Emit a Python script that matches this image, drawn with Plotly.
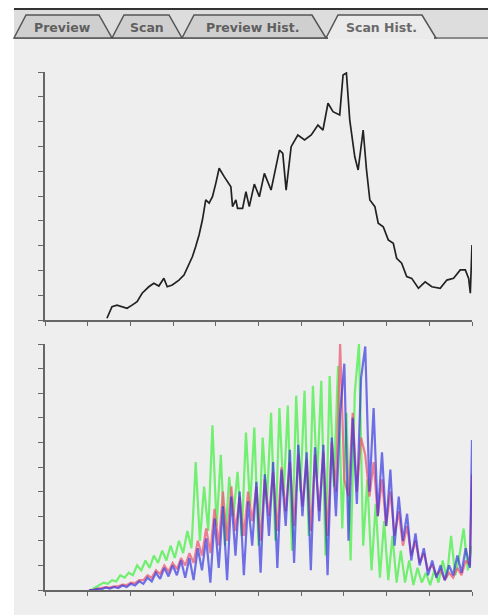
import plotly.graph_objects as go

# The page places the figure 8 px in from the top-left corner (default body margin)
OFF = 8
W, H = 496 - OFF, 615 - OFF

# ---------------- data ----------------
# Composite (luminance) histogram of the scan: levels 0-255, relative counts 0-100
lum_levels = [37, 40, 43, 46, 49, 52, 55, 58, 62, 65, 68, 71, 73, 76, 80, 83, 85, 88, 90, 92,
              94, 96, 98, 100, 102, 104, 107, 109, 111, 112, 114, 115, 118, 120, 122, 125, 128, 131,
              135, 140, 142, 144, 147, 151, 155, 159, 163, 166, 169, 172, 176, 178, 180, 182, 185,
              187, 190, 192, 194, 197, 199, 202, 205, 208, 210, 213, 216, 219, 223, 227, 231, 236,
              240, 244, 248, 251, 253, 254, 255]
lum_counts = [0.7, 5.4, 6.0, 5.4, 4.7, 6.0, 7.4, 10.8, 13.4, 14.8, 13.7, 16.8, 13.4, 14.1, 16.1,
              18.1, 20.8, 25.5, 29.6, 34.3, 40.3, 48.4, 47.1, 49.7, 55.1, 61.2, 57.8, 55.8, 53.7,
              45.7, 48.4, 45.0, 45.0, 51.7, 45.7, 54.8, 49.7, 59.1, 52.4, 68.5, 67.2, 52.4, 69.9,
              74.6, 72.6, 74.6, 78.6, 76.6, 87.4, 84.0, 82.7, 98.8, 99.6, 80.6, 65.8, 60.5, 76.6,
              60.5, 48.4, 45.7, 39.0, 37.6, 32.3, 30.9, 24.9, 22.9, 17.5, 16.8, 12.8, 15.4, 13.4,
              12.8, 16.1, 16.8, 20.2, 20.2, 16.8, 10.8, 30.2]

# Green channel histogram (sampled levels)
green_levels = [27.5, 30, 32.5, 35, 37.5, 40, 42.5, 45, 47.5, 50, 52.5, 55, 57.5, 60, 62.5, 65,
                67.5, 70, 72.5, 75, 77.5, 80, 82.5, 85, 87.5, 90, 92.5, 95, 97.5, 100, 102.5, 105,
                107.5, 110, 112.5, 115, 117.5, 120, 122.5, 125, 127.5, 130, 132.5, 135, 137.5, 140,
                142.5, 145, 147.5, 150, 152.5, 155, 157.5, 160, 162.5, 165, 167.5, 170, 172.5, 175,
                177.5, 180, 182.5, 185, 187.5, 190, 192.5, 195, 197.5, 200, 202.5, 205, 207.5, 210,
                212.5, 215, 217.5, 220, 222.5, 225, 227.5, 230, 232.5, 235, 237.5, 240, 242.5, 245,
                247.5, 250, 252.5, 255]
green_counts = [0, 1, 2, 3, 2.5, 4, 3.5, 6, 5, 7, 6, 10, 8, 12, 9, 14, 11, 16, 12, 18, 13, 20, 15,
                24, 17, 52, 20, 42, 24, 67, 26, 55, 18, 46, 30, 48, 22, 64, 34, 66, 18, 62, 35, 72,
                20, 74, 38, 75, 16, 79, 40, 81, 22, 83, 45, 85, 14, 87, 42, 91, 25, 72, 12, 80, 100,
                18, 45, 8, 35, 5, 28, 4, 22, 3, 16, 3, 12, 2, 9, 3, 7, 2, 8, 3, 12, 5, 22, 6, 14,
                25, 8, 18]

# Red and blue channel histograms (sampled levels)
rb_levels = [26.25, 28.75, 31.25, 33.75, 36.25, 38.75, 41.25, 43.75, 46.25, 48.75, 51.25, 53.75,
             56.25, 58.75, 61.25, 63.75, 66.25, 68.75, 71.25, 73.75, 76.25, 78.75, 81.25, 83.75,
             86.25, 88.75, 91.25, 93.75, 96.25, 98.75, 101.25, 103.75, 106.25, 108.75, 111.25,
             113.75, 116.25, 118.75, 121.25, 123.75, 126.25, 128.75, 131.25, 133.75, 136.25,
             138.75, 141.25, 143.75, 146.25, 148.75, 151.25, 153.75, 156.25, 158.75, 161.25,
             163.75, 166.25, 168.75, 171.25, 173.75, 176.25, 178.75, 181.25, 183.75, 186.25,
             188.75, 191.25, 193.75, 196.25, 198.75, 201.25, 203.75, 206.25, 208.75, 211.25,
             213.75, 216.25, 218.75, 221.25, 223.75, 226.25, 228.75, 231.25, 233.75, 236.25,
             238.75, 241.25, 243.75, 246.25, 248.75, 251.25, 253.75, 255]
red_counts = [0, 0, 0.5, 0.8, 1.2, 1, 1.5, 1.5, 2.2, 2, 3, 2.8, 4, 4, 6, 5, 8, 6.5, 10, 7.5, 11,
              8.5, 13, 10, 15, 11, 20, 14, 25, 15, 33, 18, 40, 20, 42, 24, 38, 22, 40, 28, 42, 20,
              45, 30, 48, 24, 50, 32, 52, 26, 55, 34, 53, 24, 55, 32, 56, 22, 60, 40, 100, 45, 38,
              72, 40, 62, 55, 38, 52, 30, 45, 26, 40, 22, 32, 18, 26, 14, 20, 11, 15, 8, 10, 6, 8,
              4, 7, 5, 9, 6, 12, 10, 47]
blue_counts = [0, 0, 0.5, 0.3, 1, 0.6, 1.2, 0.8, 1.8, 1.2, 2.5, 1.8, 3.5, 2.5, 5, 3.5, 7, 4.5, 9,
               5.5, 10, 6, 12, 5, 13, 4, 17, 8, 21, 3, 29, 9, 34, 4, 38, 14, 40, 6, 36, 18, 44, 7,
               47, 22, 52, 9, 49, 26, 57, 11, 59, 30, 56, 8, 58, 28, 59, 6, 62, 30, 72, 92, 20, 70,
               35, 86, 99, 40, 74, 30, 56, 26, 49, 18, 38, 20, 31, 12, 23, 10, 17, 6, 12, 5, 10, 4,
               10, 6, 14, 7, 17, 9, 61]

x_tick_step = 25.5
y_tick_step = 10
tab_labels = ["Preview", "Scan", "Preview Hist.", "Scan Hist."]


# ---------------- helpers: screen pixel -> paper fraction ----------------
def px(x):
    return (x - OFF) / W


def py(y):
    return 1 - (y - OFF) / H


fig = go.Figure()

fig.add_trace(go.Scatter(x=lum_levels, y=lum_counts, mode="lines",
                         line=dict(color="#222222", width=1.7),
                         xaxis="x", yaxis="y", showlegend=False, hoverinfo="skip"))

for lv, counts, color, op in [(green_levels, green_counts, "rgb(100,240,100)", 0.9),
                              (rb_levels, red_counts, "rgb(235,90,115)", 0.75),
                              (rb_levels, blue_counts, "rgb(45,45,225)", 0.66)]:
    fig.add_trace(go.Scatter(x=lv, y=counts, mode="lines",
                             line=dict(color=color, width=2.2),
                             opacity=op, xaxis="x2", yaxis="y2",
                             showlegend=False, hoverinfo="skip"))

axis_common = dict(showgrid=False, zeroline=False, showticklabels=False,
                   showline=True, linecolor="#666666", linewidth=2,
                   ticks="outside", tickcolor="#666666", tickwidth=1, fixedrange=True)

xdom = [px(45), px(472)]
fig.update_layout(
    width=W, height=H,
    margin=dict(l=0, r=0, t=0, b=0),
    paper_bgcolor="white",
    plot_bgcolor="#eeeeee",
    xaxis=dict(domain=xdom, range=[0, 255], anchor="y", tick0=0, dtick=x_tick_step,
               ticklen=4, **axis_common),
    yaxis=dict(domain=[py(320), py(72)], range=[0, 100], anchor="x", tick0=0,
               dtick=y_tick_step, ticklen=5, **axis_common),
    xaxis2=dict(domain=xdom, range=[0, 255], anchor="y2", tick0=0, dtick=x_tick_step,
                ticklen=4, **axis_common),
    yaxis2=dict(domain=[py(590), py(344)], range=[0, 100], anchor="x2", tick0=0,
                dtick=y_tick_step, ticklen=5, **axis_common),
)

shapes = []
# panel background
shapes.append(dict(type="rect", xref="paper", yref="paper", x0=px(14), x1=px(494),
                   y0=0, y1=py(8), fillcolor="#eeeeee", line=dict(width=0), layer="below"))
# tab bar background
shapes.append(dict(type="rect", xref="paper", yref="paper", x0=px(14), x1=px(494),
                   y0=py(38), y1=py(8), fillcolor="#dddddd", line=dict(width=0), layer="below"))
# top dark strip
shapes.append(dict(type="rect", xref="paper", yref="paper", x0=px(14), x1=px(494),
                   y0=py(10), y1=py(8), fillcolor="#333333", line=dict(width=0), layer="below"))
# baseline of tab bar
shapes.append(dict(type="line", xref="paper", yref="paper", x0=px(14), x1=px(494),
                   y0=py(38), y1=py(38), line=dict(color="#8a8a8a", width=2), layer="below"))


def tab_path(pts):
    return "M " + " L ".join(f"{px(a):.5f},{py(b):.5f}" for a, b in pts) + " Z"


tabs = [
    ([(14, 38), (26, 15), (99, 15), (112, 38)], "#cfcfcf", 62),
    ([(112, 38), (124, 15), (169, 15), (182, 38)], "#cfcfcf", 147),
    ([(182, 38), (194, 15), (312, 15), (326, 38)], "#cfcfcf", 253),
    ([(326, 38), (338, 15), (422, 15), (436, 38)], "#ebebeb", 381),
]
for pts, fill, cx in tabs:
    shapes.append(dict(type="path", xref="paper", yref="paper", path=tab_path(pts),
                       fillcolor=fill, line=dict(color="#555555", width=1.5), layer="below"))
# active tab opening (cover the baseline under the active tab)
shapes.append(dict(type="line", xref="paper", yref="paper", x0=px(328), x1=px(434),
                   y0=py(38), y1=py(38), line=dict(color="#ebebeb", width=2), layer="below"))

fig.update_layout(shapes=shapes)

annotations = []
for (pts, fill, cx), label in zip(tabs, tab_labels):
    annotations.append(dict(text=f"<b>{label}</b>", x=px(cx), y=py(27), xref="paper",
                            yref="paper", showarrow=False, xanchor="center", yanchor="middle",
                            font=dict(family="DejaVu Sans", size=12.5,
                                      color="#5f5f5f" if label != "Scan Hist." else "#6a6a6a")))
fig.update_layout(annotations=annotations)

fig.write_html("out.html")
